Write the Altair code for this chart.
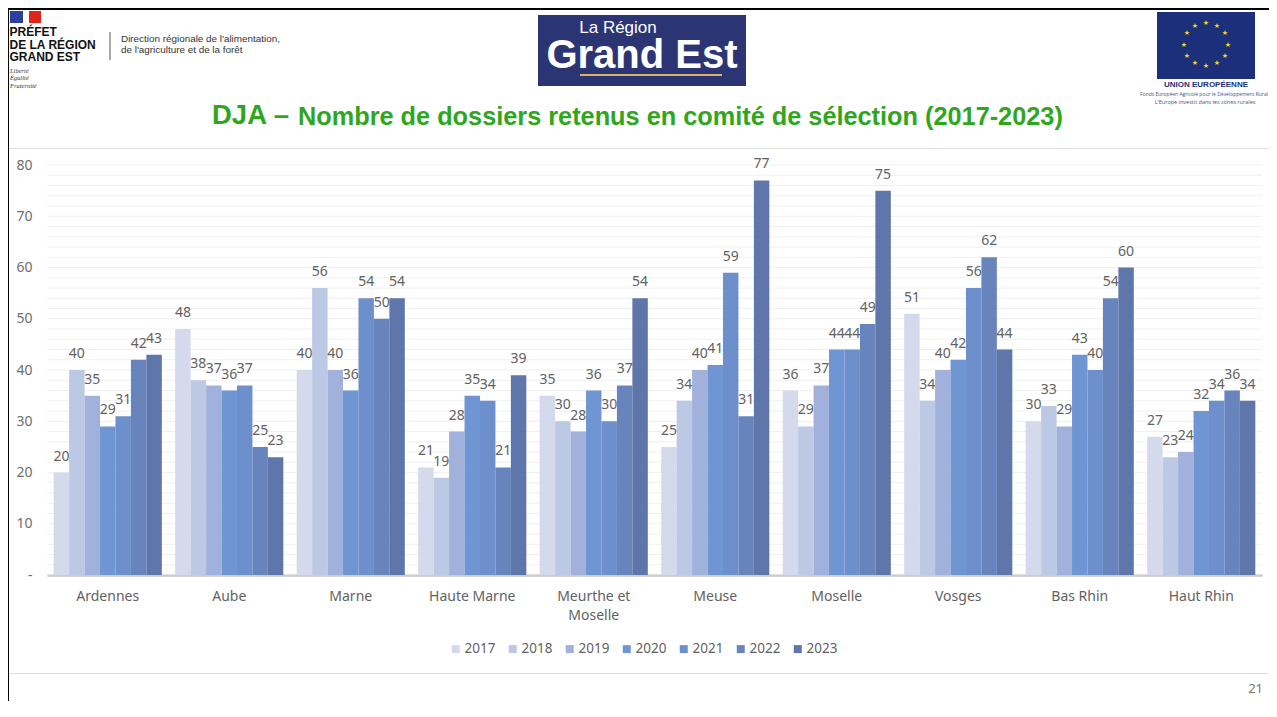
import altair as alt
import pandas as pd

categories = ["Ardennes", "Aube", "Marne", "Haute Marne", "Meurthe et Moselle",
              "Meuse", "Moselle", "Vosges", "Bas Rhin", "Haut Rhin"]
years = ["2017", "2018", "2019", "2020", "2021", "2022", "2023"]
v2017 = [20, 48, 40, 21, 35, 25, 36, 51, 30, 27]
v2018 = [40, 38, 56, 19, 30, 34, 29, 34, 33, 23]
v2019 = [35, 37, 40, 28, 28, 40, 37, 40, 29, 24]
v2020 = [29, 36, 36, 35, 36, 41, 44, 42, 43, 32]
v2021 = [31, 37, 54, 34, 30, 59, 44, 56, 40, 34]
v2022 = [42, 25, 50, 21, 37, 31, 49, 62, 54, 36]
v2023 = [43, 23, 54, 39, 54, 77, 75, 44, 60, 34]
series = [v2017, v2018, v2019, v2020, v2021, v2022, v2023]
colors = ["#d4d9eb", "#bcc9e4", "#a1b1db", "#6f96d2", "#6d8fcb", "#6884bc", "#5f76aa"]
tick_values = [0, 10, 20, 30, 40, 50, 60, 70, 80]
grid_values = [0, 2, 4, 6, 8, 10, 12, 14, 16, 18, 20, 22, 24, 26, 28, 30, 32, 34, 36, 38, 40,
               42, 44, 46, 48, 50, 52, 54, 56, 58, 60, 62, 64, 66, 68, 70, 72, 74, 76, 78, 80]

rows = [{"cat": c, "year": y, "val": s[i]}
        for y, s in zip(years, series) for i, c in enumerate(categories)]
df = pd.DataFrame(rows)
grid_df = pd.DataFrame({"val": grid_values})

L, T = 47, 165      # plot origin in page pixels
W, H = 1215, 410
GREY = "#626262"
FONT = "Noto Sans"
one = alt.Data(values=[{"a": 1}])


def px(x):
    return alt.value(x - L)


def py(y):
    return alt.value(y - T)


def box(x1, y1, x2, y2, color):
    return alt.Chart(one).mark_rect(color=color).encode(
        x=px(x1), x2=px(x2), y=py(y1), y2=py(y2))


def label(s, x, y, size, color, font="Liberation Sans", weight="normal",
          align="left", style="normal"):
    return alt.Chart(one).mark_text(
        font=font, fontSize=size, color=color, fontWeight=weight, align=align,
        baseline="middle", fontStyle=style
    ).encode(x=px(x), y=py(y), text=alt.value(s))


yscale = alt.Scale(domain=[0, 80], nice=False)
xenc = alt.X("cat:N", sort=categories, title=None,
             scale=alt.Scale(paddingInner=0.11, paddingOuter=0.055),
             axis=alt.Axis(labelFont=FONT, labelFontSize=14, labelColor=GREY,
                           labelAngle=0, labelPadding=14, ticks=False,
                           domainColor="#a8a8a8", domainWidth=2, grid=False,
                           labelLineHeight=19,
                           labelExpr="datum.label == 'Meurthe et Moselle' ? ['Meurthe et', 'Moselle'] : datum.label"))
yenc = alt.Y("val:Q", title=None, scale=yscale,
             axis=alt.Axis(values=tick_values, labelFont=FONT, labelFontSize=14,
                           labelColor="#6e6e6e", ticks=False, domain=False, grid=False,
                           labelPadding=15,
                           labelExpr="datum.value == 0 ? '-' : datum.label"))
xoff = alt.XOffset("year:N", sort=years, scale=alt.Scale(paddingInner=0, paddingOuter=0))

gridlines = alt.Chart(grid_df).mark_rule(color="#f0f0f0", strokeWidth=1).encode(y=yenc)

bars = alt.Chart(df).mark_bar(stroke=None).encode(
    x=xenc, y=yenc, xOffset=xoff,
    color=alt.Color("year:N", sort=years, scale=alt.Scale(domain=years, range=colors),
                    legend=alt.Legend(title=None, orient="none", legendX=402, legendY=477,
                                      direction="horizontal", columns=7, symbolType="square",
                                      symbolSize=64, symbolStrokeWidth=0, labelFont=FONT,
                                      labelFontSize=13.5, labelColor=GREY, labelOffset=2,
                                      columnPadding=10, padding=0)))
texts = alt.Chart(df).mark_text(font=FONT, fontSize=14, color=GREY, dy=-16,
                                baseline="middle").encode(
    x=alt.X("cat:N", sort=categories), y="val:Q", xOffset=xoff, text="val:Q")

# slide furniture
decor = [
    box(8, 8, 1269, 10, "#000000"),
    box(8, 8, 9, 709, "#000000"),
    box(9, 148, 1269, 149, "#dedede"),
    box(9, 673, 1269, 674, "#dedede"),
    # French flag
    box(10, 11, 23, 23, "#2b3f9e"), box(23, 11, 29, 23, "#ffffff"), box(29, 11, 41, 23, "#e2231a"),
    label("PRÉFET", 9.5, 32, 12, "#111111", weight="bold"),
    label("DE LA RÉGION", 9.5, 45, 12, "#111111", weight="bold"),
    label("GRAND EST", 9.5, 57, 12, "#111111", weight="bold"),
    label("Liberté", 10, 71, 6.5, "#333333", font="Liberation Serif", style="italic"),
    label("Égalité", 10, 78, 6.5, "#333333", font="Liberation Serif", style="italic"),
    label("Fraternité", 10, 86, 6.5, "#333333", font="Liberation Serif", style="italic"),
    box(109.5, 32, 110.5, 60, "#555555"),
    label("Direction régionale de l'alimentation,", 121, 39, 9.9, "#333333"),
    label("de l'agriculture et de la forêt", 121, 50, 9.9, "#333333"),
    # Grand Est logo
    box(538, 15, 746, 86, "#2c3574"),
    label("La Région", 618, 28, 17, "#ffffff", font="Liberation Sans", align="center"),
    label("Grand Est", 642, 56, 40, "#ffffff", font="Liberation Sans", weight="bold", align="center"),
    box(580, 74, 722, 76, "#d9b36a"),
    # EU flag
    box(1157, 12, 1255, 79, "#1b2f7a"),
]
stars = [(1206, 23), (1217, 26), (1225, 33), (1228, 45), (1225, 56), (1217, 63),
         (1206, 66), (1195, 63), (1187, 56), (1184, 45), (1187, 33), (1195, 26)]
for sx, sy in stars:
    decor.append(label("★", sx, sy, 7, "#f7d917", font="DejaVu Sans", align="center"))
decor += [
    label("UNION EUROPÉENNE", 1206, 85, 8, "#1b2f7a", weight="bold", align="center"),
    label("Fonds Européen Agricole pour le Développement Rural", 1204, 94, 5, "#44557f",
          font="Open Sans", align="center"),
    label("L'Europe investit dans les zones rurales", 1205, 102, 5.5, "#44557f",
          font="Open Sans", align="center"),
    label("DJA –", 212, 116, 27.5, "#2fa61e", weight="bold"),
    label("Nombre de dossiers retenus en comité de sélection (2017-2023)", 298, 117, 25.3,
          "#2fa61e", weight="bold"),
    label("21", 1263, 689, 13, "#777777", font=FONT, align="right"),
]

chart = alt.layer(gridlines, bars, texts, *decor).properties(
    width=W, height=H, autosize="none",
    padding={"left": L - 8, "top": T - 8, "right": 1269 - L - W, "bottom": 709 - 8 - T - H},
).configure_view(stroke=None)

chart.save("out.html", embed_options={"renderer": "svg", "actions": False})
